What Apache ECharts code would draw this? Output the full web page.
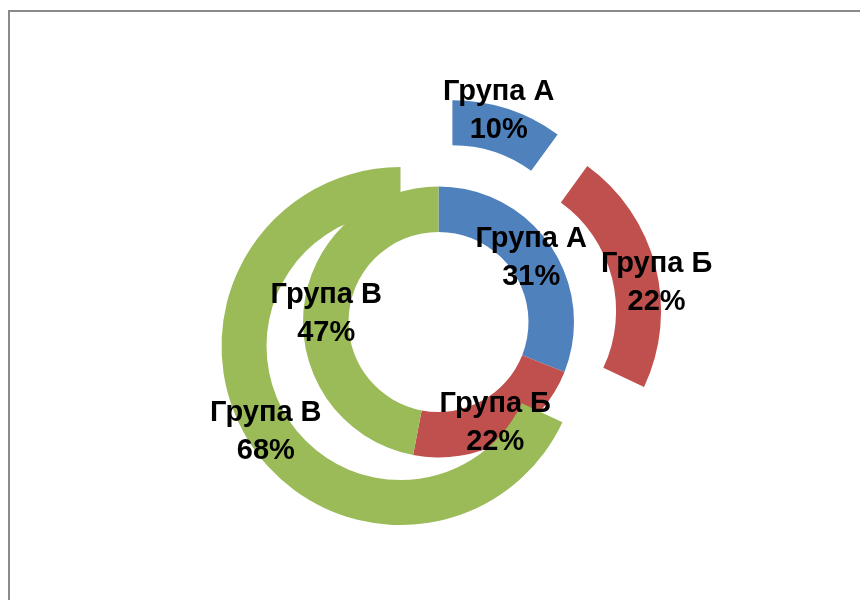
<!DOCTYPE html>
<html>
<head>
<meta charset="utf-8">
<script src="https://cdn.jsdelivr.net/npm/echarts@6/dist/echarts.min.js"></script>
<style>
html,body{margin:0;padding:0;background:#fff;}
#frame{position:absolute;left:8px;top:10px;width:860px;height:600px;border-top:2px solid #8a8a8a;border-left:2px solid #8a8a8a;}
#chart{position:absolute;left:0;top:0;width:860px;height:600px;}
</style>
</head>
<body>
<div id="frame"></div>
<div id="chart"></div>
<script>
const categories = ['Група А', 'Група Б', 'Група В'];
const innerValues = [31, 22, 47];
const outerValues = [10, 22, 68];
const colors = ['#4F81BD', '#C0504D', '#9BBB59'];

const labelStyle = {
  show: true,
  position: 'inside',
  color: '#000',
  fontFamily: 'Liberation Sans',
  fontWeight: 'bold',
  fontSize: 29,
  lineHeight: 38,
  formatter: p => p.name + '\n' + Math.round(p.percent) + '%'
};
const innerLabelShift = [[-3, 1], [1, 0], [3, 3]];
const outerLabelShift = [[-3, -17], [20, 12], [0, 0]];

const chart = echarts.init(document.getElementById('chart'));
chart.setOption({
  animation: false,
  color: colors,
  series: [
    {
      type: 'pie',
      center: [438.5, 322],
      radius: [90, 135.5],
      startAngle: 90,
      clockwise: true,
      silent: true,
      label: labelStyle,
      labelLine: { show: false },
      emphasis: { disabled: true },
      labelLayout: p => ({ dx: innerLabelShift[p.dataIndex][0], dy: innerLabelShift[p.dataIndex][1] }),
      data: categories.map((c, i) => ({ name: c, value: innerValues[i], itemStyle: { color: colors[i] } }))
    },
    {
      type: 'pie',
      center: [438.5, 322],
      radius: [134, 179],
      startAngle: 90,
      clockwise: true,
      silent: true,
      selectedMode: 'multiple',
      selectedOffset: 45,
      label: labelStyle,
      labelLine: { show: false },
      emphasis: { disabled: true },
      labelLayout: p => ({ dx: outerLabelShift[p.dataIndex][0], dy: outerLabelShift[p.dataIndex][1] }),
      data: categories.map((c, i) => ({
        name: c, value: outerValues[i], selected: true,
        itemStyle: { color: colors[i] }
      }))
    }
  ]
});
</script>
</body>
</html>
